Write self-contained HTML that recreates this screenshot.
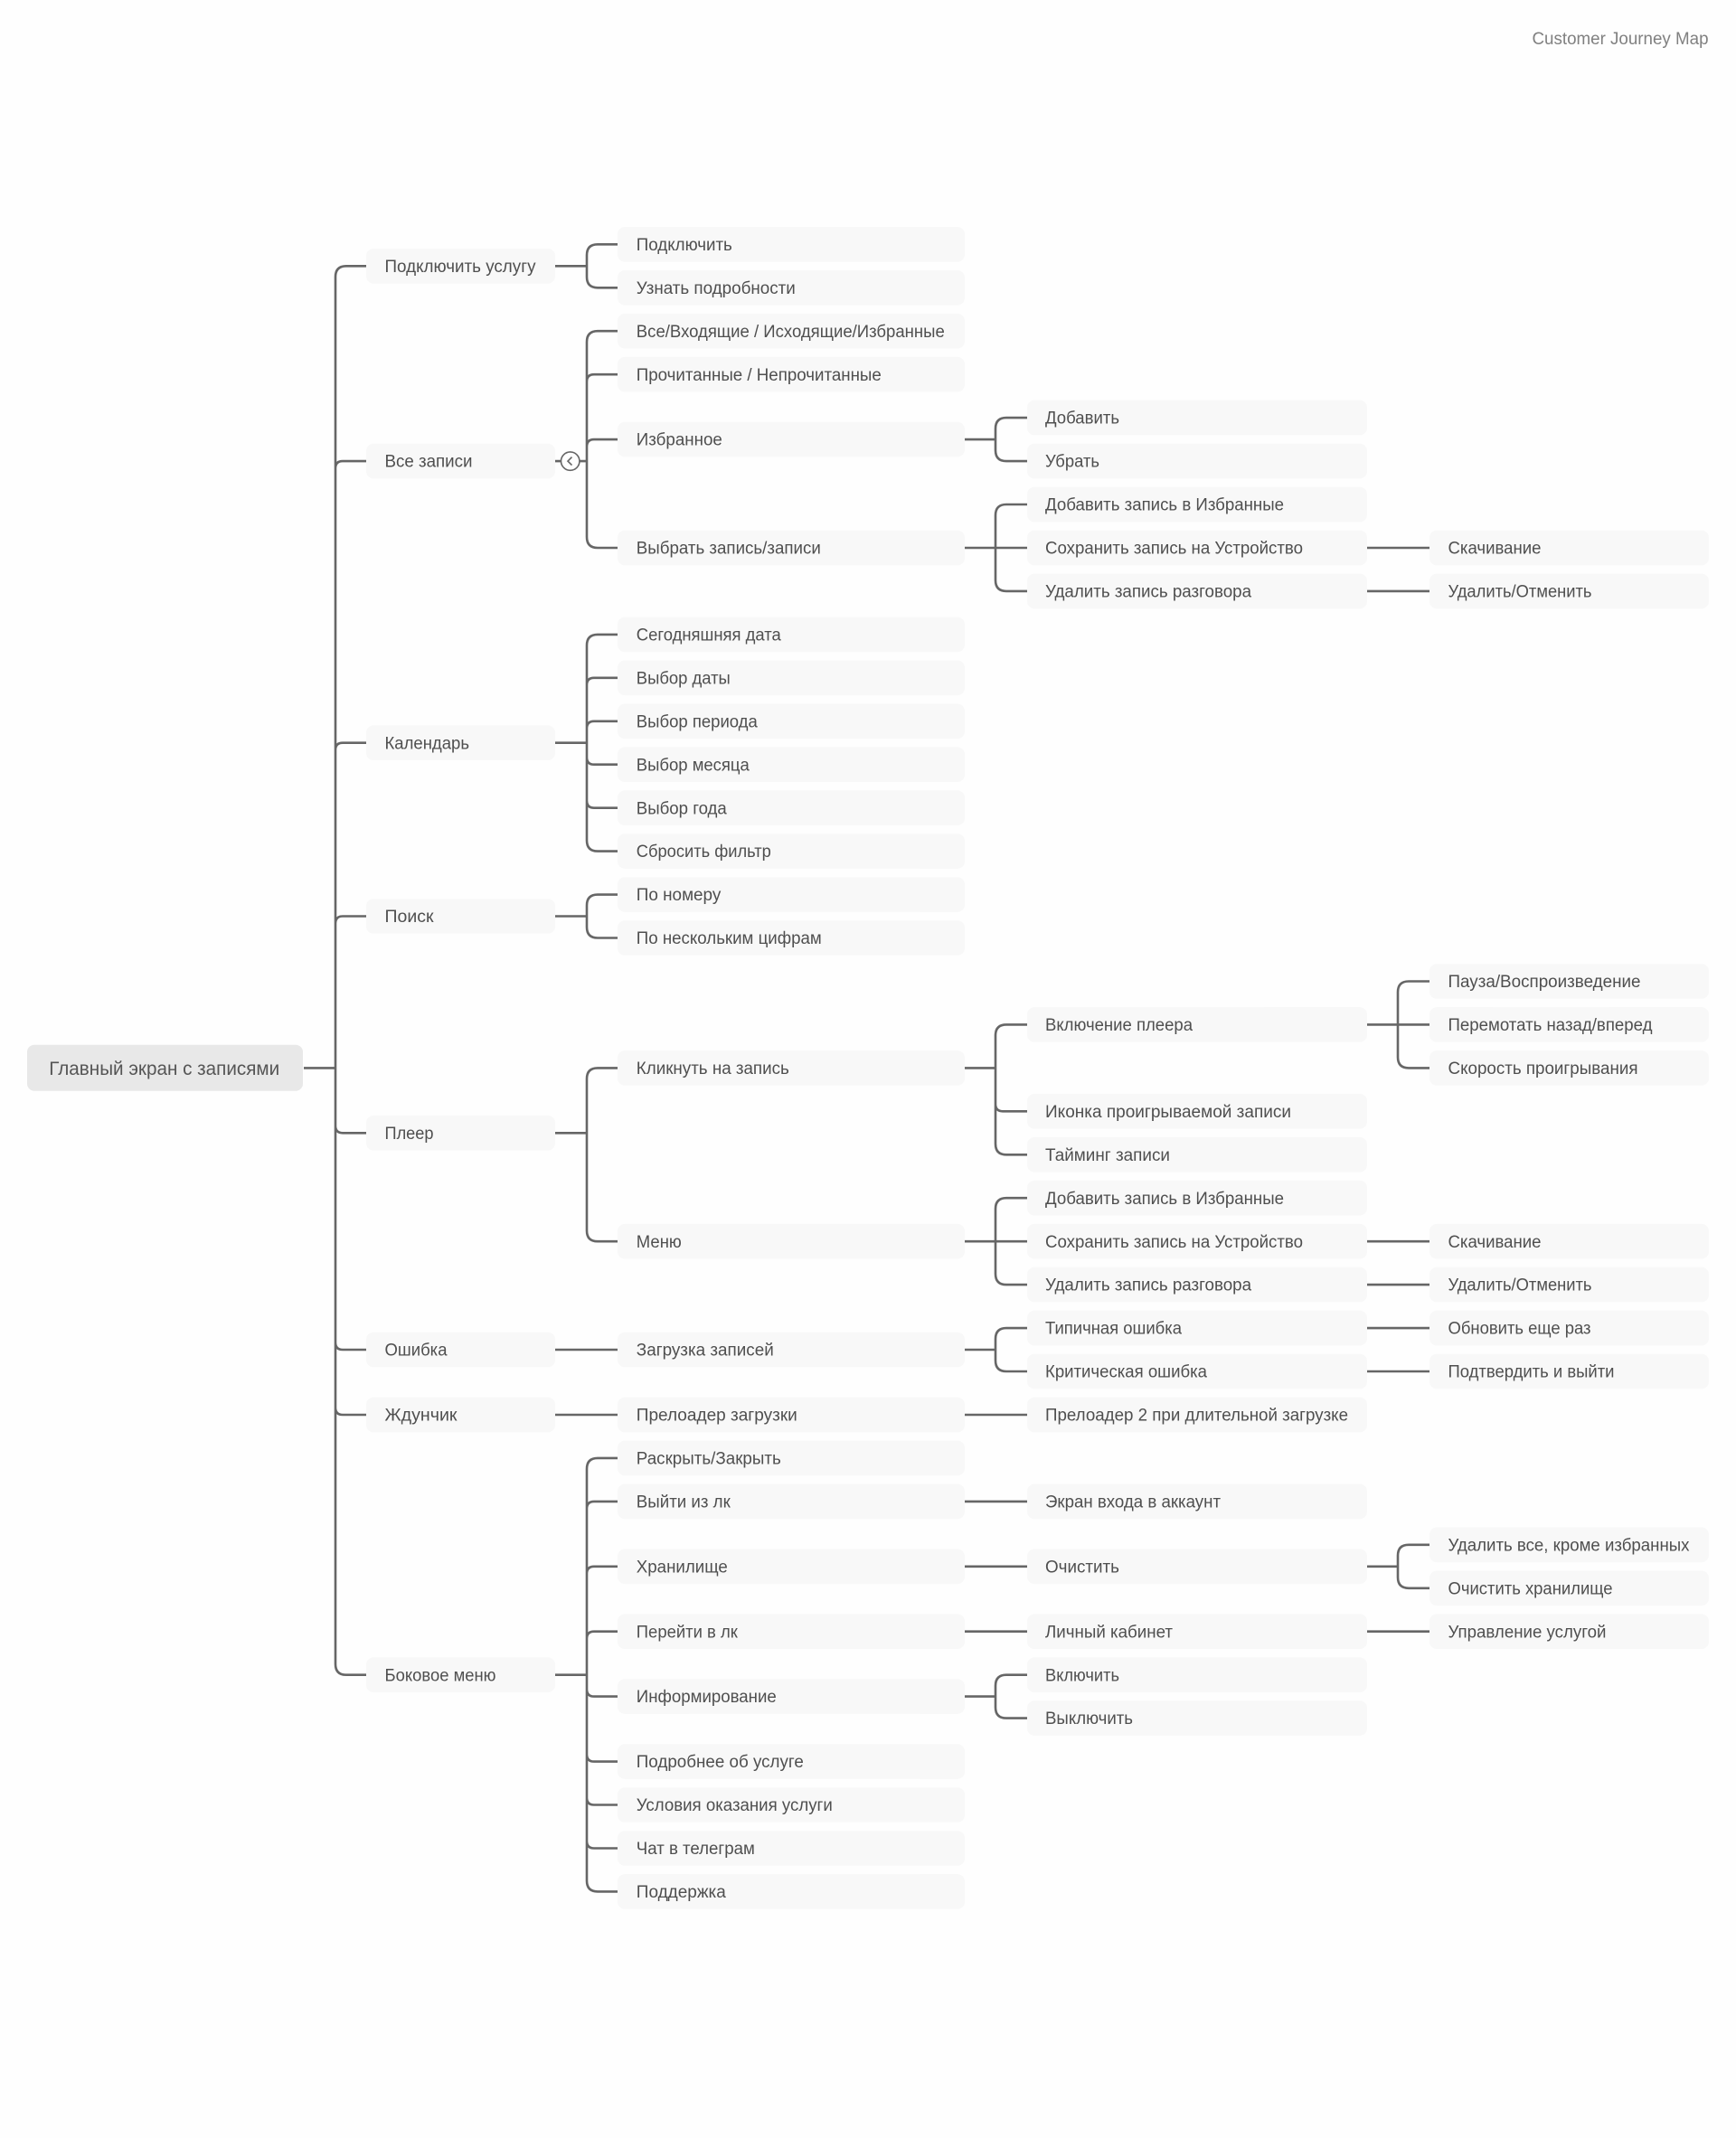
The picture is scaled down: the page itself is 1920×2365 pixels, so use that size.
<!DOCTYPE html>
<html lang="ru"><head><meta charset="utf-8"><title>Customer Journey Map</title>
<style>
html,body{margin:0;padding:0;background:#fff;width:1920px;height:2365px;overflow:hidden}
svg{display:block}
text{font-family:"Liberation Sans","DejaVu Sans",sans-serif;font-size:19px;fill:#4f4f4f;transform:translateX(21px)}
g rect{fill:#f8f8f8;y:-19.3px;height:38.6px;rx:8px;ry:8px}
.l1 rect{x:405px;width:209px}.l1 text{transform:translateX(425.5px)}
.l2 rect{x:683px;width:384px}.l2 text{transform:translateX(703.8px)}
.l3 rect{x:1136px;width:376px}.l3 text{transform:translateX(1156px)}
.l4 rect{x:1581px;width:309px}.l4 text{transform:translateX(1601.5px)}
path{fill:none;stroke:#666;stroke-width:2.6}
</style></head><body>
<svg width="1920" height="2365" viewBox="0 0 1920 2365" xmlns="http://www.w3.org/2000/svg">
<rect width="1920" height="2365" fill="#fff" style="fill:#fefefe"/>
<text y="49" textLength="195" lengthAdjust="spacingAndGlyphs" style="transform:translateX(1694.5px);fill:#808080">Customer Journey Map</text>

<!-- connectors -->
<path d="M336 1181.4H371M405 294.3H383Q371 294.3 371 306.3V1840.7Q371 1852.7 383 1852.7H405M371 518.1Q371 510.1 379 510.1H405M371 829.7Q371 821.7 379 821.7H405M371 1021.5Q371 1013.5 379 1013.5H405M371 1245.3Q371 1253.3 379 1253.3H405M371 1485Q371 1493 379 1493H405M371 1557Q371 1565 379 1565H405"/>
<path d="M614 294.3H649M683 270.3H661Q649 270.3 649 282.3V306.3Q649 318.3 661 318.3H683"/>
<path d="M614 510.1H620M641 510.1H649M683 366.2H661Q649 366.2 649 378.2V594Q649 606 661 606H683M649 422.2Q649 414.2 657 414.2H683M649 494.1Q649 486.1 657 486.1H683"/>
<path d="M614 821.7H649M683 701.9H661Q649 701.9 649 713.9V929.6Q649 941.6 661 941.6H683M649 757.8Q649 749.8 657 749.8H683M649 805.8Q649 797.8 657 797.8H683M649 837.7Q649 845.7 657 845.7H683M649 885.7Q649 893.7 657 893.7H683"/>
<path d="M614 1013.5H649M683 989.6H661Q649 989.6 649 1001.6V1025.5Q649 1037.5 661 1037.5H683"/>
<path d="M614 1253.3H649M683 1181.4H661Q649 1181.4 649 1193.4V1361.2Q649 1373.2 661 1373.2H683"/>
<path d="M614 1493H683M614 1565H683"/>
<path d="M614 1852.7H649M683 1612.9H661Q649 1612.9 649 1624.9V2080.4Q649 2092.4 661 2092.4H683M649 1668.9Q649 1660.9 657 1660.9H683M649 1740.8Q649 1732.8 657 1732.8H683M649 1812.7Q649 1804.7 657 1804.7H683M649 1868.6Q649 1876.6 657 1876.6H683M649 1940.6Q649 1948.6 657 1948.6H683M649 1988.5Q649 1996.5 657 1996.5H683M649 2036.5Q649 2044.5 657 2044.5H683"/>
<path d="M1067 486.1H1101M1136 462.1H1113Q1101 462.1 1101 474.1V498.1Q1101 510.1 1113 510.1H1136"/>
<path d="M1067 606H1136M1136 558H1113Q1101 558 1101 570V641.9Q1101 653.9 1113 653.9H1136"/>
<path d="M1067 1181.4H1101M1136 1133.4H1113Q1101 1133.4 1101 1145.4V1265.3Q1101 1277.3 1113 1277.3H1136M1101 1221.3Q1101 1229.3 1109 1229.3H1136"/>
<path d="M1067 1373.2H1136M1136 1325.2H1113Q1101 1325.2 1101 1337.2V1409.1Q1101 1421.1 1113 1421.1H1136"/>
<path d="M1067 1493H1101M1136 1469.1H1113Q1101 1469.1 1101 1481.1V1505Q1101 1517 1113 1517H1136"/>
<path d="M1067 1565H1136M1067 1660.9H1136M1067 1732.8H1136M1067 1804.7H1136"/>
<path d="M1067 1876.6H1101M1136 1852.7H1113Q1101 1852.7 1101 1864.7V1888.6Q1101 1900.6 1113 1900.6H1136"/>
<path d="M1512 606H1581M1512 653.9H1581M1512 1373.2H1581M1512 1421.1H1581M1512 1469.1H1581M1512 1517H1581M1512 1804.7H1581"/>
<path d="M1512 1133.4H1581M1581 1085.5H1558Q1546 1085.5 1546 1097.5V1169.4Q1546 1181.4 1558 1181.4H1581"/>
<path d="M1512 1732.8H1546M1581 1708.8H1558Q1546 1708.8 1546 1720.8V1744.8Q1546 1756.8 1558 1756.8H1581"/>

<!-- collapse toggle -->
<circle cx="630.7" cy="510.1" r="10.2" fill="#fff" stroke="#666" stroke-width="1.6"/>
<path d="M632.5 505.6L628 510.1L632.5 514.6" style="stroke-width:1.6"/>

<!-- root -->
<rect x="30" y="1155.7" width="305" height="51" rx="8" ry="8" fill="#e8e8e8" style="fill:#e8e8e8"/>
<text y="1189" textLength="255" lengthAdjust="spacingAndGlyphs" style="transform:translateX(54.2px);font-size:21px;fill:#555">Главный экран с записями</text>

<!-- level 1 -->
<g class="l1" transform="translate(0 294.3)"><rect/><text y="6.6" textLength="167" lengthAdjust="spacingAndGlyphs">Подключить услугу</text></g>
<g class="l1" transform="translate(0 510.1)"><rect/><text y="6.6" textLength="97" lengthAdjust="spacingAndGlyphs">Все записи</text></g>
<g class="l1" transform="translate(0 821.7)"><rect/><text y="6.6" textLength="93.5" lengthAdjust="spacingAndGlyphs">Календарь</text></g>
<g class="l1" transform="translate(0 1013.5)"><rect/><text y="6.6" textLength="54" lengthAdjust="spacingAndGlyphs">Поиск</text></g>
<g class="l1" transform="translate(0 1253.3)"><rect/><text y="6.6" textLength="54" lengthAdjust="spacingAndGlyphs">Плеер</text></g>
<g class="l1" transform="translate(0 1493)"><rect/><text y="6.6" textLength="69" lengthAdjust="spacingAndGlyphs">Ошибка</text></g>
<g class="l1" transform="translate(0 1565)"><rect/><text y="6.6" textLength="80" lengthAdjust="spacingAndGlyphs">Ждунчик</text></g>
<g class="l1" transform="translate(0 1852.7)"><rect/><text y="6.6" textLength="123" lengthAdjust="spacingAndGlyphs">Боковое меню</text></g>

<!-- level 2 -->
<g class="l2" transform="translate(0 270.3)"><rect/><text y="6.6" textLength="106" lengthAdjust="spacingAndGlyphs">Подключить</text></g>
<g class="l2" transform="translate(0 318.3)"><rect/><text y="6.6" textLength="176" lengthAdjust="spacingAndGlyphs">Узнать подробности</text></g>
<g class="l2" transform="translate(0 366.2)"><rect/><text y="6.6" textLength="341" lengthAdjust="spacingAndGlyphs">Все/Входящие / Исходящие/Избранные</text></g>
<g class="l2" transform="translate(0 414.2)"><rect/><text y="6.6" textLength="271" lengthAdjust="spacingAndGlyphs">Прочитанные / Непрочитанные</text></g>
<g class="l2" transform="translate(0 486.1)"><rect/><text y="6.6" textLength="95" lengthAdjust="spacingAndGlyphs">Избранное</text></g>
<g class="l2" transform="translate(0 606)"><rect/><text y="6.6" textLength="204" lengthAdjust="spacingAndGlyphs">Выбрать запись/записи</text></g>
<g class="l2" transform="translate(0 701.9)"><rect/><text y="6.6" textLength="160" lengthAdjust="spacingAndGlyphs">Сегодняшняя дата</text></g>
<g class="l2" transform="translate(0 749.8)"><rect/><text y="6.6" textLength="104" lengthAdjust="spacingAndGlyphs">Выбор даты</text></g>
<g class="l2" transform="translate(0 797.8)"><rect/><text y="6.6" textLength="134" lengthAdjust="spacingAndGlyphs">Выбор периода</text></g>
<g class="l2" transform="translate(0 845.7)"><rect/><text y="6.6" textLength="125" lengthAdjust="spacingAndGlyphs">Выбор месяца</text></g>
<g class="l2" transform="translate(0 893.7)"><rect/><text y="6.6" textLength="100" lengthAdjust="spacingAndGlyphs">Выбор года</text></g>
<g class="l2" transform="translate(0 941.6)"><rect/><text y="6.6" textLength="149" lengthAdjust="spacingAndGlyphs">Сбросить фильтр</text></g>
<g class="l2" transform="translate(0 989.6)"><rect/><text y="6.6" textLength="93.5" lengthAdjust="spacingAndGlyphs">По номеру</text></g>
<g class="l2" transform="translate(0 1037.5)"><rect/><text y="6.6" textLength="205" lengthAdjust="spacingAndGlyphs">По нескольким цифрам</text></g>
<g class="l2" transform="translate(0 1181.4)"><rect/><text y="6.6" textLength="169" lengthAdjust="spacingAndGlyphs">Кликнуть на запись</text></g>
<g class="l2" transform="translate(0 1373.2)"><rect/><text y="6.6" textLength="50" lengthAdjust="spacingAndGlyphs">Меню</text></g>
<g class="l2" transform="translate(0 1493)"><rect/><text y="6.6" textLength="152" lengthAdjust="spacingAndGlyphs">Загрузка записей</text></g>
<g class="l2" transform="translate(0 1565)"><rect/><text y="6.6" textLength="178" lengthAdjust="spacingAndGlyphs">Прелоадер загрузки</text></g>
<g class="l2" transform="translate(0 1612.9)"><rect/><text y="6.6" textLength="160" lengthAdjust="spacingAndGlyphs">Раскрыть/Закрыть</text></g>
<g class="l2" transform="translate(0 1660.9)"><rect/><text y="6.6" textLength="104" lengthAdjust="spacingAndGlyphs">Выйти из лк</text></g>
<g class="l2" transform="translate(0 1732.8)"><rect/><text y="6.6" textLength="101" lengthAdjust="spacingAndGlyphs">Хранилище</text></g>
<g class="l2" transform="translate(0 1804.7)"><rect/><text y="6.6" textLength="112" lengthAdjust="spacingAndGlyphs">Перейти в лк</text></g>
<g class="l2" transform="translate(0 1876.6)"><rect/><text y="6.6" textLength="155" lengthAdjust="spacingAndGlyphs">Информирование</text></g>
<g class="l2" transform="translate(0 1948.6)"><rect/><text y="6.6" textLength="185" lengthAdjust="spacingAndGlyphs">Подробнее об услуге</text></g>
<g class="l2" transform="translate(0 1996.5)"><rect/><text y="6.6" textLength="217" lengthAdjust="spacingAndGlyphs">Условия оказания услуги</text></g>
<g class="l2" transform="translate(0 2044.5)"><rect/><text y="6.6" textLength="131" lengthAdjust="spacingAndGlyphs">Чат в телеграм</text></g>
<g class="l2" transform="translate(0 2092.4)"><rect/><text y="6.6" textLength="99" lengthAdjust="spacingAndGlyphs">Поддержка</text></g>

<!-- level 3 -->
<g class="l3" transform="translate(0 462.1)"><rect/><text y="6.6" textLength="82" lengthAdjust="spacingAndGlyphs">Добавить</text></g>
<g class="l3" transform="translate(0 510.1)"><rect/><text y="6.6" textLength="60" lengthAdjust="spacingAndGlyphs">Убрать</text></g>
<g class="l3" transform="translate(0 558)"><rect/><text y="6.6" textLength="264" lengthAdjust="spacingAndGlyphs">Добавить запись в Избранные</text></g>
<g class="l3" transform="translate(0 606)"><rect/><text y="6.6" textLength="285" lengthAdjust="spacingAndGlyphs">Сохранить запись на Устройство</text></g>
<g class="l3" transform="translate(0 653.9)"><rect/><text y="6.6" textLength="228" lengthAdjust="spacingAndGlyphs">Удалить запись разговора</text></g>
<g class="l3" transform="translate(0 1133.4)"><rect/><text y="6.6" textLength="163" lengthAdjust="spacingAndGlyphs">Включение плеера</text></g>
<g class="l3" transform="translate(0 1229.3)"><rect/><text y="6.6" textLength="272" lengthAdjust="spacingAndGlyphs">Иконка проигрываемой записи</text></g>
<g class="l3" transform="translate(0 1277.3)"><rect/><text y="6.6" textLength="138" lengthAdjust="spacingAndGlyphs">Тайминг записи</text></g>
<g class="l3" transform="translate(0 1325.2)"><rect/><text y="6.6" textLength="264" lengthAdjust="spacingAndGlyphs">Добавить запись в Избранные</text></g>
<g class="l3" transform="translate(0 1373.2)"><rect/><text y="6.6" textLength="285" lengthAdjust="spacingAndGlyphs">Сохранить запись на Устройство</text></g>
<g class="l3" transform="translate(0 1421.1)"><rect/><text y="6.6" textLength="228" lengthAdjust="spacingAndGlyphs">Удалить запись разговора</text></g>
<g class="l3" transform="translate(0 1469.1)"><rect/><text y="6.6" textLength="151" lengthAdjust="spacingAndGlyphs">Типичная ошибка</text></g>
<g class="l3" transform="translate(0 1517)"><rect/><text y="6.6" textLength="179" lengthAdjust="spacingAndGlyphs">Критическая ошибка</text></g>
<g class="l3" transform="translate(0 1565)"><rect/><text y="6.6" textLength="335" lengthAdjust="spacingAndGlyphs">Прелоадер 2 при длительной загрузке</text></g>
<g class="l3" transform="translate(0 1660.9)"><rect/><text y="6.6" textLength="194" lengthAdjust="spacingAndGlyphs">Экран входа в аккаунт</text></g>
<g class="l3" transform="translate(0 1732.8)"><rect/><text y="6.6" textLength="82" lengthAdjust="spacingAndGlyphs">Очистить</text></g>
<g class="l3" transform="translate(0 1804.7)"><rect/><text y="6.6" textLength="141" lengthAdjust="spacingAndGlyphs">Личный кабинет</text></g>
<g class="l3" transform="translate(0 1852.7)"><rect/><text y="6.6" textLength="82" lengthAdjust="spacingAndGlyphs">Включить</text></g>
<g class="l3" transform="translate(0 1900.6)"><rect/><text y="6.6" textLength="97" lengthAdjust="spacingAndGlyphs">Выключить</text></g>

<!-- level 4 -->
<g class="l4" transform="translate(0 606)"><rect/><text y="6.6" textLength="103" lengthAdjust="spacingAndGlyphs">Скачивание</text></g>
<g class="l4" transform="translate(0 653.9)"><rect/><text y="6.6" textLength="159" lengthAdjust="spacingAndGlyphs">Удалить/Отменить</text></g>
<g class="l4" transform="translate(0 1085.5)"><rect/><text y="6.6" textLength="213" lengthAdjust="spacingAndGlyphs">Пауза/Воспроизведение</text></g>
<g class="l4" transform="translate(0 1133.4)"><rect/><text y="6.6" textLength="226" lengthAdjust="spacingAndGlyphs">Перемотать назад/вперед</text></g>
<g class="l4" transform="translate(0 1181.4)"><rect/><text y="6.6" textLength="210" lengthAdjust="spacingAndGlyphs">Скорость проигрывания</text></g>
<g class="l4" transform="translate(0 1373.2)"><rect/><text y="6.6" textLength="103" lengthAdjust="spacingAndGlyphs">Скачивание</text></g>
<g class="l4" transform="translate(0 1421.1)"><rect/><text y="6.6" textLength="159" lengthAdjust="spacingAndGlyphs">Удалить/Отменить</text></g>
<g class="l4" transform="translate(0 1469.1)"><rect/><text y="6.6" textLength="158" lengthAdjust="spacingAndGlyphs">Обновить еще раз</text></g>
<g class="l4" transform="translate(0 1517)"><rect/><text y="6.6" textLength="184" lengthAdjust="spacingAndGlyphs">Подтвердить и выйти</text></g>
<g class="l4" transform="translate(0 1708.8)"><rect/><text y="6.6" textLength="267" lengthAdjust="spacingAndGlyphs">Удалить все, кроме избранных</text></g>
<g class="l4" transform="translate(0 1756.8)"><rect/><text y="6.6" textLength="182" lengthAdjust="spacingAndGlyphs">Очистить хранилище</text></g>
<g class="l4" transform="translate(0 1804.7)"><rect/><text y="6.6" textLength="175" lengthAdjust="spacingAndGlyphs">Управление услугой</text></g>
</svg>
</body></html>
